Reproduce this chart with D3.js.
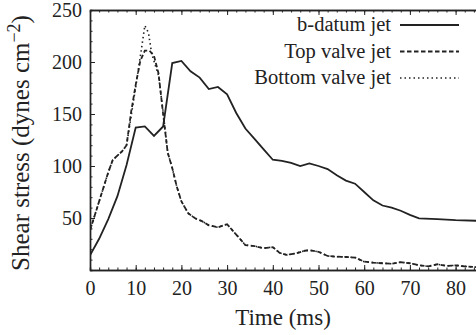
<!DOCTYPE html>
<html lang="en">
<head>
<meta charset="UTF-8">
<script src="https://d3js.org/d3.v7.min.js"></script>
<style>
  body { margin: 0; background: #fff; }
  text { font-family: Times, "Nimbus Roman", "TeX Gyre Termes", "Times New Roman", serif; }
</style>
</head>
<body>
<script>
// b-datum jet (solid)
var bTime = [0, 2, 4, 6, 8, 10, 12, 14, 16, 18, 20, 22, 24, 26, 28, 30, 32, 34, 36, 38, 40, 42, 44, 46, 48, 50, 52, 54, 56, 58, 60, 62, 64, 66, 68, 70, 72, 76, 80, 85]
var bStress = [14, 30, 49, 71, 101, 137, 138, 129, 138, 199, 201, 191, 185, 174, 176, 169, 151, 136, 126, 116, 106, 105, 103, 100, 102.5, 100, 97, 91, 86, 83, 75, 67, 62, 60, 57, 53, 49.7, 49, 48, 47.3]

// top valve jet (dashed)
var topTime = [0, 2, 4, 5, 7, 8, 9, 10, 11, 12, 13, 14, 15, 16, 17, 18, 19, 20, 21.5, 23, 24.5, 26, 28, 30, 32, 34, 36, 38, 40, 41.5, 43, 45, 47, 48, 50, 52, 54, 56, 58, 60, 62, 64, 66, 68, 70, 72, 74, 76, 78, 80, 82, 85]
var topStress = [38, 66, 94, 106, 114, 120, 152, 178, 201, 211, 211, 206, 189, 150, 113, 98, 80, 66, 54.5, 49.7, 47, 43, 41, 44, 34, 24, 23, 21, 22, 16.5, 14.5, 16, 18.5, 19, 17.5, 13.5, 12.8, 12.5, 12, 8, 7, 6.5, 6, 7.5, 6.5, 4.5, 3.5, 5.5, 4, 4.5, 3.5, 2.6]

// bottom valve jet (dotted)
var botTime = [0, 2, 4, 5, 7, 8, 9, 10, 11, 12, 12.8, 13.5, 15, 16, 17, 18, 19, 20, 21.5, 23, 24.5, 26, 28, 30, 32, 34, 36, 38, 40, 41.5, 43, 45, 47, 48, 50, 52, 54, 56, 58, 60, 62, 64, 66, 68, 70, 72, 74, 76, 78, 80, 82, 85]
var botStress = [38, 66, 94, 106, 114, 120, 148, 176, 205, 235, 228, 208, 187, 152, 113, 98, 80, 66, 54.5, 49.7, 47, 43, 41, 44, 34, 24, 23, 21, 22, 16.5, 14.5, 16, 18.5, 19, 17.5, 13.5, 12.8, 12.5, 12, 8, 7, 6.5, 6, 7.5, 6.5, 4.5, 3.5, 5.5, 4, 4.5, 3.5, 2.6]

var seriesNames = ["b-datum jet", "Top valve jet", "Bottom valve jet"]
var xTicks = [0, 10, 20, 30, 40, 50, 60, 70, 80]
var yTicks = [50, 100, 150, 200, 250]

function drawChart() {
    var width = 476, height = 335
    var mLeft = 90, mTop = 10, mBottom = 270

    var svg = d3.select("body").append("svg")
        .attr("width", width)
        .attr("height", height)

    var x = d3.scaleLinear().domain([0, 100]).range([mLeft, mLeft + 457])
    var y = d3.scaleLinear().domain([0, 250]).range([mBottom, mTop])

    svg.append("clipPath").attr("id", "plot")
        .append("rect").attr("x", mLeft).attr("y", mTop)
        .attr("width", width - mLeft).attr("height", mBottom - mTop)

    // minor ticks
    var xMinor = d3.range(0, 100, 2)
    var yMinor = d3.range(0, 251, 10)

    svg.append("g").attr("transform", "translate(0," + mBottom + ")")
        .call(d3.axisBottom(x).tickValues(xMinor).tickSize(-2.5).tickFormat(""))
    svg.append("g").attr("transform", "translate(0," + mTop + ")")
        .call(d3.axisTop(x).tickValues(xMinor).tickSize(-2.5).tickFormat(""))
    svg.append("g").attr("transform", "translate(" + mLeft + ",0)")
        .call(d3.axisLeft(y).tickValues(yMinor).tickSize(-2.5).tickFormat(""))

    // major ticks
    svg.append("g").attr("transform", "translate(0," + mBottom + ")")
        .call(d3.axisBottom(x).tickValues(xTicks).tickSize(-5).tickPadding(11).tickSizeOuter(0))
    svg.append("g").attr("transform", "translate(0," + mTop + ")")
        .call(d3.axisTop(x).tickValues(xTicks).tickSize(-5).tickFormat("").tickSizeOuter(0))
    svg.append("g").attr("transform", "translate(" + mLeft + ",0)")
        .call(d3.axisLeft(y).tickValues(yTicks).tickSize(-5).tickPadding(8).tickSizeOuter(0))

    svg.selectAll("g").attr("font-family", null)
    svg.selectAll(".domain").attr("stroke", "#222").attr("stroke-width", 1.4)
    svg.selectAll(".tick line").attr("stroke", "#222").attr("stroke-width", 1)
    svg.selectAll(".tick text").style("font-size", "20px").attr("fill", "#222")

    // axis titles
    svg.append("text")
        .attr("x", 283).attr("y", 325)
        .attr("text-anchor", "middle")
        .style("font-size", "23px").attr("fill", "#222")
        .text("Time (ms)")

    var yl = svg.append("text")
        .attr("transform", "translate(29,143) rotate(-90)")
        .attr("text-anchor", "middle")
        .style("font-size", "25px").attr("fill", "#222")
    yl.append("tspan").text("Shear stress (dynes cm")
    yl.append("tspan").style("font-size", "18px").attr("dy", -9).text("\u22122")
    yl.append("tspan").attr("dy", 9).text(")")

    // lines
    var series = [
        { t: bTime, v: bStress, dash: null, w: 1.8 },
        { t: topTime, v: topStress, dash: "4.5,2.5", w: 1.8 },
        { t: botTime, v: botStress, dash: "1.5,3", w: 1.6 }
    ]

    var line = d3.line()
        .x(function (d) { return x(d[0]) })
        .y(function (d) { return y(d[1]) })

    var g = svg.append("g").attr("clip-path", "url(#plot)")
    series.forEach(function (s) {
        g.append("path")
            .datum(d3.zip(s.t, s.v))
            .attr("d", line)
            .attr("fill", "none")
            .attr("stroke", "#222")
            .attr("stroke-width", s.w)
            .attr("stroke-dasharray", s.dash)
    })

    // legend
    var legendY = [25, 51.5, 78]
    seriesNames.forEach(function (name, i) {
        svg.append("text")
            .attr("x", 391).attr("y", legendY[i]).attr("dy", "0.3em")
            .attr("text-anchor", "end")
            .style("font-size", "20.5px").attr("fill", "#222")
            .text(name)
        svg.append("line")
            .attr("x1", 400).attr("x2", 459)
            .attr("y1", legendY[i]).attr("y2", legendY[i])
            .attr("stroke", "#222")
            .attr("stroke-width", series[i].w)
            .attr("stroke-dasharray", series[i].dash)
    })
}

drawChart()
</script>
</body>
</html>
